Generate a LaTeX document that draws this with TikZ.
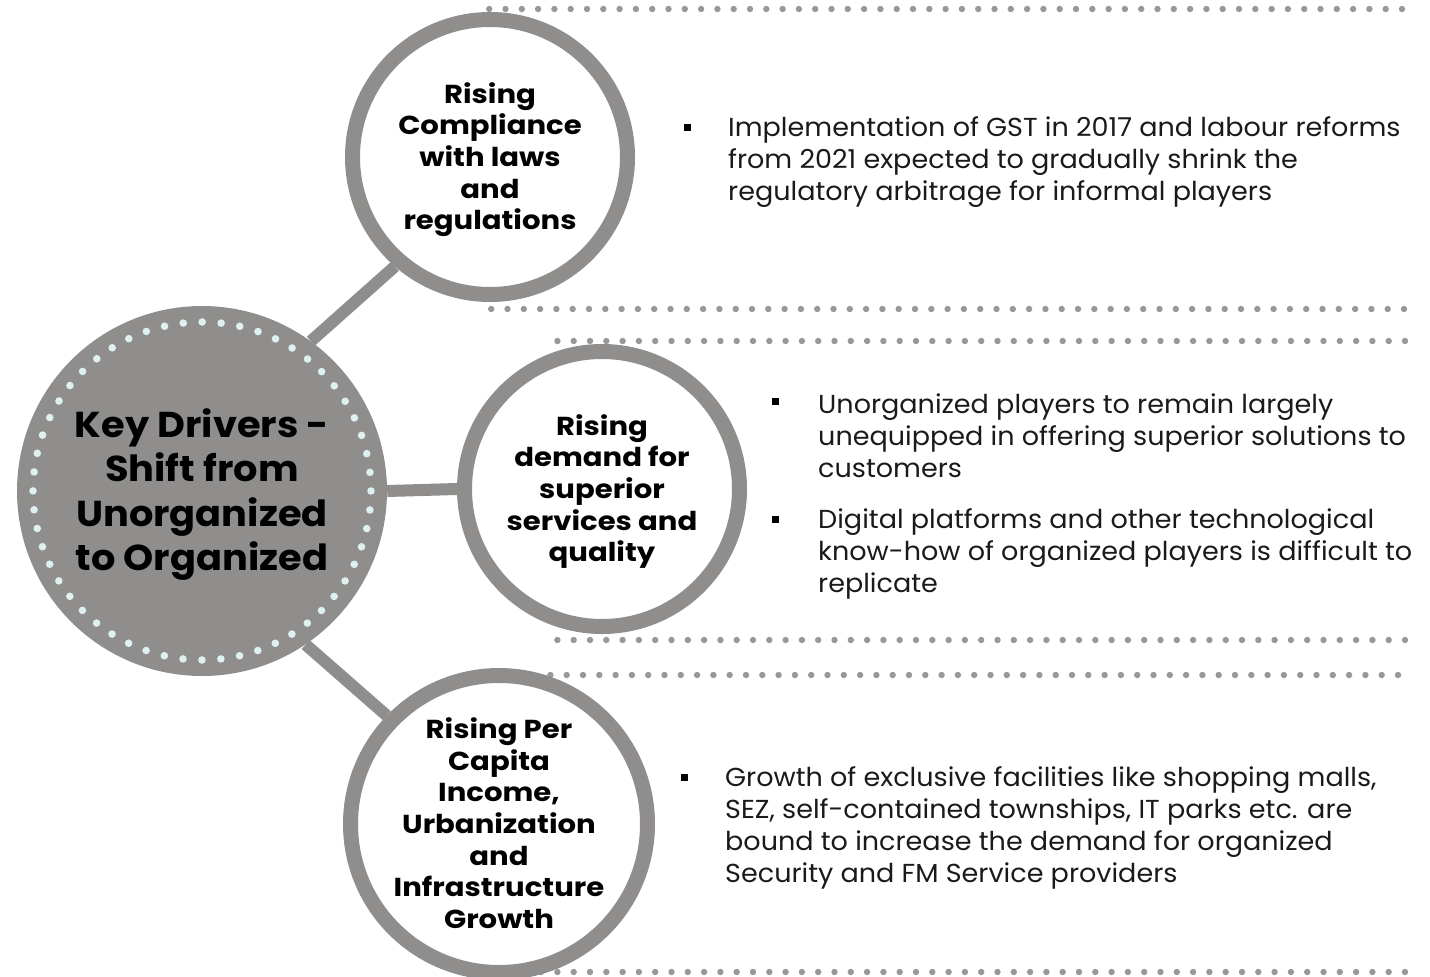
\documentclass[tikz,border=0pt]{standalone}
\usepackage{fontspec}
\setmainfont{Poppins}
\definecolor{ringgray}{RGB}{143,142,141}
\definecolor{dotgray}{RGB}{152,152,152}
\definecolor{lightdot}{RGB}{222,240,240}
\definecolor{textcol}{RGB}{26,26,26}
\newcommand\tstr[1]{\rule{0pt}{#1}}
\newcommand\bstr[1]{\rule[-#1]{0pt}{#1}}
\pgfdeclarelayer{bg}
\pgfsetlayers{bg,main}
\tikzset{
  ring/.style={circle, draw=ringgray, line width=15pt, fill=white, inner sep=-20pt, align=center,
    font=\bfseries\fontsize{26}{31.7}\selectfont\addfontfeatures{FakeStretch=1.12}, text=black},
  hub/.style={circle, fill=ringgray, inner sep=-20pt, minimum size=370pt, align=center,
    font=\bfseries\fontsize{36}{44.5}\selectfont\addfontfeatures{FakeStretch=1.065}, text=black},
  link/.style={draw=ringgray, line width=12pt},
  bul/.style={rectangle, fill=black, minimum size=7pt, inner sep=0pt},
  body/.style={anchor=west, align=left, inner sep=0pt, text=textcol,
    font=\fontsize{26}{32}\selectfont\addfontfeatures{FakeStretch=1.04}},
}
\begin{document}
\begin{tikzpicture}[x=1pt,y=-1pt]
\useasboundingbox (0,0) rectangle (1430,977);

% hub and driver circles
\node[hub] (c) at (202,491) {\tstr{38pt}Key Drivers -\\Shift from\\Unorganized\\to Organized\bstr{12pt}};
\node[ring, minimum size=275pt] (t) at (490,157) {\tstr{28pt}Rising\\Compliance\\with laws\\and\\regulations\bstr{9pt}};
\node[ring, minimum size=275pt] (m) at (602,489) {\tstr{28pt}Rising\\demand for\\superior\\services and\\quality\bstr{9pt}};
\node[ring, minimum size=297pt] (b) at (499,824) {\tstr{28pt}Rising Per\\Capita\\Income,\\Urbanization\\and\\Infrastructure\\Growth\bstr{9pt}};

% light dotted ring inside the hub
\foreach \a in {0,6.43,...,359} {
  \fill[lightdot, shift={(c.center)}] (\a:169) circle (3.8);
}

\begin{pgfonlayer}{bg}
  % dotted separators
  \foreach \yy/\xs/\xe in {9/477/1402, 309/477/1404, 341/545/1405, 640/545/1405, 675/540/1398, 972/540/1405} {
    \foreach \i in {0,...,62} {
      \pgfmathsetmacro\xx{\xe-\i*16.3}
      \ifdim\xx pt<\xs pt\relax\else
        \fill[dotgray] (\xx,\yy) circle (3.2);
      \fi
    }
  }
  % connectors
  \draw[link] (c.54) -- (t.229);
  \draw[link] (c.0) -- (m.180);
  \draw[link] (c.-56) -- (b.136);
\end{pgfonlayer}

% bullets and texts
\node[bul] (b1) at (687,127) {};
\node[body] (x1) at (728,162) {Implementation of GST in 2017 and labour reforms\\from 2021 expected to gradually shrink the\\regulatory arbitrage for informal players};
\node[bul] (b2) at (775,401) {};
\node[body] (x2) at (818,436) {Unorganized players to remain largely\\unequipped in offering superior solutions to\\customers};
\node[bul] (b3) at (775,519) {};
\node[body] (x3) at (818,554) {Digital platforms and other technological\\know-how of organized players is difficult to\\replicate};
\node[bul] (b4) at (684,777) {};
\node[body] (x4) at (725,828) {Growth of exclusive facilities like shopping malls,\\SEZ, self-contained townships, IT parks etc. are\\bound to increase the demand for organized\\Security and FM Service providers};
\end{tikzpicture}
\end{document}
